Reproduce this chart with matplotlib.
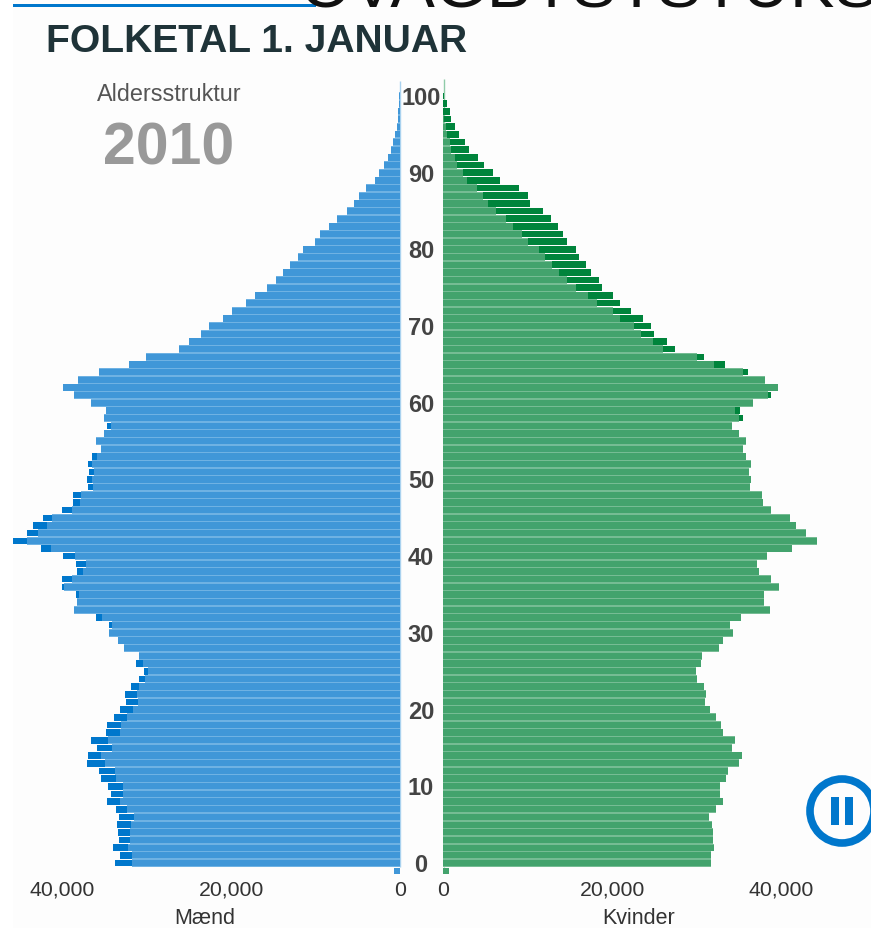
import matplotlib
matplotlib.use("Agg")
import matplotlib.pyplot as plt
from matplotlib.patches import Circle, Rectangle
import numpy as np

plt.rcParams['font.family'] = ['Liberation Sans', 'DejaVu Sans']

# age 0 .. 100, thousands of people
ages = list(range(101))

men_light = [31.68, 31.68, 32.15, 31.95, 31.95, 31.88, 31.48, 32.31, 33.14, 32.82,
             32.82, 33.57, 33.73, 34.87, 35.39, 34.12, 34.52, 33.18, 32.98, 32.35,
             31.64, 30.97, 31.13, 30.89, 30.14, 29.86, 30.46, 30.85, 32.63, 33.41,
             34.44, 34.05, 35.31, 38.62, 38.23, 37.99, 39.77, 38.82, 37.48, 37.16,
             38.42, 41.34, 44.18, 42.88, 41.74, 41.15, 38.78, 37.83, 37.75, 36.37,
             36.45, 36.18, 36.49, 35.82, 35.39, 35.94, 35.07, 34.24, 35.07, 34.79,
             36.53, 38.62, 39.84, 38.07, 35.62, 32.07, 30.02, 26.15, 24.97, 23.50,
             22.64, 20.98, 19.92, 18.26, 17.16, 15.78, 14.72, 13.81, 12.98, 12.11,
             11.52, 10.06, 9.43, 8.36, 7.50, 6.31, 5.44, 4.81, 4.02, 2.92,
             2.45, 1.85, 1.46, 1.07, 0.79, 0.59, 0.39, 0.28, 0.20, 0.12, 0.07]

men_dark = [33.69, 33.14, 33.97, 33.22, 33.41, 33.45, 33.22, 33.61, 34.64, 34.24,
            34.60, 35.35, 35.58, 37.00, 36.97, 35.90, 36.53, 34.83, 34.68, 33.89,
            33.18, 32.43, 32.55, 31.88, 30.89, 30.26, 31.24, 0, 0, 0,
            34.44, 34.44, 35.94, 0, 0, 38.40, 39.96, 39.96, 38.23, 38.35,
            39.88, 42.53, 45.80, 44.18, 43.47, 42.21, 39.96, 38.66, 38.74, 36.97,
            37.04, 36.77, 36.97, 36.49, 0, 0, 0, 34.64]

women_light = [31.67, 31.67, 32.07, 31.95, 31.99, 31.87, 31.44, 32.27, 33.09, 32.82,
               32.78, 33.53, 33.76, 34.99, 35.38, 34.16, 34.51, 33.13, 32.90, 32.30,
               31.59, 30.96, 31.12, 30.88, 30.10, 29.90, 30.49, 30.61, 32.62, 33.17,
               34.32, 34.00, 35.22, 38.66, 38.03, 37.95, 39.72, 38.85, 37.43, 37.20,
               38.38, 41.34, 44.26, 42.92, 41.73, 41.10, 38.81, 37.91, 37.75, 36.33,
               36.41, 36.21, 36.45, 35.86, 35.46, 35.86, 35.07, 34.24, 35.03, 34.59,
               36.72, 38.50, 39.64, 38.10, 35.46, 32.07, 30.02, 26.00, 24.89, 23.43,
               22.60, 20.95, 20.16, 18.23, 17.12, 15.74, 14.64, 13.69, 12.90, 12.07,
               11.40, 10.02, 9.39, 8.32, 7.49, 6.31, 5.36, 4.77, 3.98, 2.88,
               2.41, 1.70, 1.42, 0.95, 0.79, 0.43, 0.31, 0.08, 0.04, 0, 0]

# only the old ages and a few around 60 stick out past the light bars
women_dark_ages = [58, 59, 61, 64, 65, 66, 67, 68, 69, 70,
                   71, 72, 73, 74, 75, 76, 77, 78, 79, 80,
                   81, 82, 83, 84, 85, 86, 87, 88, 89, 90,
                   91, 92, 93, 94, 95, 96, 97, 98, 99, 100]
women_dark = [35.54, 35.18, 38.81, 36.05, 33.33, 30.92, 27.50, 26.55, 24.93, 24.58,
              23.71, 22.21, 20.99, 20.08, 18.82, 18.46, 17.52, 16.96, 16.06, 15.74,
              14.71, 14.24, 13.61, 12.78, 11.87, 10.30, 10.02, 9.03, 6.78, 5.96,
              4.89, 4.14, 3.12, 2.64, 1.90, 1.46, 1.00, 0.83, 0.43, 0.16]

age_ticks = [0, 10, 20, 30, 40, 50, 60, 70, 80, 90, 100]
x_ticks = [0, 20, 40]
x_labels = ['0', '20,000', '40,000']

W, H = 871, 929
fig = plt.figure(figsize=(W / 100, H / 100), dpi=100, facecolor='white')

# page background, full figure in pixel coordinates
bg = fig.add_axes([0, 0, 1, 1])
bg.set_xlim(0, W)
bg.set_ylim(H, 0)
bg.axis('off')
bg.add_patch(Rectangle((13, 0), W - 13, H, color='#fdfdfd', lw=0))
bg.add_patch(Rectangle((13, 5), 303, 3, color='#0077cc', lw=0))

# clipped heading at the very top edge
bg.text(300, 7, 'OVAGBTSTSTUKS', fontsize=48, color='#111111', va='baseline', ha='left',
        clip_on=True)
bg.text(46, 52, 'FOLKETAL 1. JANUAR', fontsize=28.1, fontweight='bold', color='#1f3338',
        va='baseline', ha='left')
bg.text(169, 101, 'Aldersstruktur', fontsize=16.8, color='#555555', ha='center', va='baseline')
bg.text(169, 164, '2010', fontsize=42.5, fontweight='bold', color='#999999', ha='center',
        va='baseline')

px_per_k = 8.45
age0_y = 864
px_per_age = 7.67
bottom_y = age0_y + px_per_age / 2
top_y = age0_y - 100.5 * px_per_age


def make_axes(x_zero, x_edge):
    # x_zero is where 0 sits, x_edge the outer side of the panel
    left, right = min(x_zero, x_edge), max(x_zero, x_edge)
    ax = fig.add_axes([left / W, 1 - bottom_y / H, (right - left) / W, (bottom_y - top_y) / H])
    span = (right - left) / px_per_k
    ax.set_xlim((span, 0) if x_edge < x_zero else (0, span))
    ax.set_ylim(-0.5, 100.5)
    ax.patch.set_alpha(0)
    for s in ax.spines.values():
        s.set_visible(False)
    ax.set_yticks([])
    ax.set_xticks([])
    return ax


ax_m = make_axes(400, 13)
ax_w = make_axes(443, 830)

men_dark_ages = ages[:len(men_dark)]
ax_m.barh(men_dark_ages, men_dark, height=0.85, color='#0077cc', zorder=1)
ax_m.barh(ages, men_light, height=1.0, color='#6fb2e3', zorder=1.5)
ax_m.barh(ages, men_light, height=0.82, color='#4097d8', zorder=2)

ax_w.barh(women_dark_ages, women_dark, height=0.85, color='#00843c', zorder=1)
ax_w.barh(ages, women_light, height=1.0, color='#76bc94', zorder=1.5)
ax_w.barh(ages, women_light, height=0.82, color='#43a36d', zorder=2)

# pale gridlines only show over the bars
for ax, light in ((ax_m, men_light), (ax_w, women_light)):
    vals = np.array(light)
    for t in x_ticks[1:]:
        on = vals >= t
        ax.barh(np.array(ages)[on], 0.1, left=t - 0.05, height=1.0, color='#ffffff',
                alpha=0.35, zorder=3)

for ax in (ax_m, ax_w):
    for t, lab in zip(x_ticks, x_labels):
        ax.text(t, -3.4, lab, fontsize=15.3, color='#333333', ha='center', va='center',
                clip_on=False)

ax_m.text(23.08, -7.05, 'Mænd', fontsize=15.5, color='#333333', ha='center', va='center',
          clip_on=False)
ax_w.text(23.2, -7.05, 'Kvinder', fontsize=15.5, color='#333333', ha='center', va='center',
          clip_on=False)

# age labels in the gap between the panels
for a in age_ticks:
    bg.text(421, age0_y - a * px_per_age + 1.5, str(a), fontsize=17, fontweight='bold',
            color='#444444', ha='center', va='center')

# pale zero lines running past the top bar, with stubs under the bars
bg.plot([399.5, 399.5], [82, 868], color='#a9d2ef', lw=1, solid_capstyle='butt')
bg.plot([443.5, 443.5], [80, 868], color='#8fcba8', lw=1, solid_capstyle='butt')
bg.add_patch(Rectangle((394, 869), 6, 6, color='#4097d8', lw=0))
bg.add_patch(Rectangle((443, 869), 6, 6, color='#43a36d', lw=0))

# pause button
bg.add_patch(Circle((842, 812), 32, fill=False, ec='#0077cc', lw=5.5))
bg.add_patch(Rectangle((831, 798), 8, 28, color='#0077cc', lw=0))
bg.add_patch(Rectangle((845, 798), 8, 28, color='#0077cc', lw=0))

fig.savefig('out.png', dpi=100)
